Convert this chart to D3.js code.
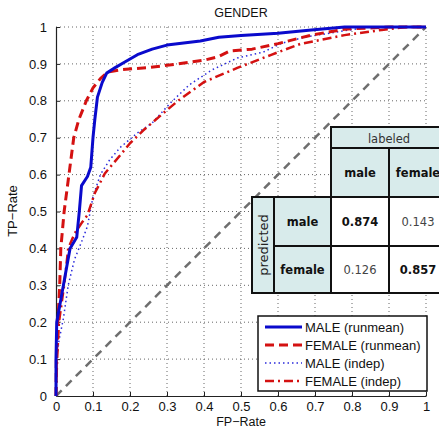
<!DOCTYPE html>
<html>
<head>
<meta charset="utf-8">
<script src="https://cdn.jsdelivr.net/npm/d3@7"></script>
<style>
  html, body { margin: 0; padding: 0; background: #fff; }
  svg { display: block; }
</style>
</head>
<body>
<svg id="chart" width="439" height="430"></svg>
<script>
// ROC curves (FP-rate, TP-rate) for gender classification
const maleRunmean = [
  [0,0],[0,0.1],[0.002,0.2],[0.011,0.25],[0.02,0.3],[0.029,0.35],[0.038,0.4],[0.056,0.43],
  [0.063,0.5],[0.069,0.57],[0.085,0.595],[0.094,0.62],[0.1,0.7],[0.105,0.75],[0.112,0.81],
  [0.125,0.85],[0.137,0.875],[0.16,0.89],[0.186,0.905],[0.22,0.925],[0.26,0.94],[0.3,0.951],
  [0.39,0.962],[0.44,0.972],[0.5,0.977],[0.6,0.983],[0.69,0.992],[0.78,1],[1,1]
];
const femaleRunmean = [
  [0,0],[0.001,0.1],[0.005,0.2],[0.01,0.3],[0.013,0.4],[0.022,0.5],[0.035,0.6],[0.048,0.7],
  [0.062,0.75],[0.082,0.8],[0.1,0.835],[0.12,0.86],[0.14,0.878],[0.18,0.885],[0.25,0.89],
  [0.33,0.9],[0.4,0.91],[0.44,0.92],[0.47,0.935],[0.53,0.94],[0.6,0.955],[0.69,0.978],
  [0.78,0.994],[0.9,1],[1,1]
];
const maleIndep = [
  [0,0],[0.002,0.1],[0.008,0.15],[0.02,0.21],[0.033,0.3],[0.05,0.37],[0.07,0.42],[0.085,0.46],
  [0.1,0.54],[0.12,0.6],[0.145,0.64],[0.175,0.675],[0.22,0.713],[0.26,0.74],[0.31,0.795],
  [0.36,0.843],[0.42,0.883],[0.49,0.916],[0.56,0.932],[0.61,0.956],[0.67,0.972],[0.78,0.99],
  [0.85,1],[1,1]
];
const femaleIndep = [
  [0,0],[0.003,0.1],[0.008,0.2],[0.022,0.3],[0.033,0.4],[0.05,0.44],[0.07,0.47],[0.085,0.49],
  [0.105,0.55],[0.132,0.603],[0.178,0.658],[0.2,0.685],[0.236,0.72],[0.3,0.775],[0.33,0.8],
  [0.4,0.851],[0.49,0.889],[0.58,0.924],[0.66,0.954],[0.78,0.978],[0.88,0.992],[0.95,1],[1,1]
];
const chance = [[0,0],[1,1]];

const seriesNames = ["MALE (runmean)", "FEMALE (runmean)", "MALE (indep)", "FEMALE (indep)"];
const tickValues = [0,0.1,0.2,0.3,0.4,0.5,0.6,0.7,0.8,0.9,1];
const tickLabels = ["0","0.1","0.2","0.3","0.4","0.5","0.6","0.7","0.8","0.9","1"];

// confusion matrix
const classNames = ["male", "female"];
const confusion = [[0.874, 0.143], [0.126, 0.857]];

const svg = d3.select("#chart");
const x = d3.scaleLinear().domain([0,1]).range([56, 426]);
const y = d3.scaleLinear().domain([0,1]).range([396, 27]);

const FONT = "'Liberation Sans', Arial, Helvetica, sans-serif";

// dotted grid
const grid = svg.append("g");
grid.selectAll("line.gx").data(tickValues.slice(1)).join("line")
  .attr("x1", d => x(d)).attr("x2", d => x(d)).attr("y1", y(0)).attr("y2", y(1))
  .attr("stroke", "#666").attr("stroke-width", 1).attr("stroke-dasharray", "1,3");
grid.selectAll("line.gy").data(tickValues.slice(1)).join("line")
  .attr("y1", d => y(d)).attr("y2", d => y(d)).attr("x1", x(0)).attr("x2", x(1))
  .attr("stroke", "#666").attr("stroke-width", 1).attr("stroke-dasharray", "1,3");

// axes
const fmt = (d, i) => tickLabels[i];
const xAxis = d3.axisBottom(x).tickValues(tickValues).tickFormat(fmt).tickSizeInner(-4).tickSizeOuter(0).tickPadding(6);
const yAxis = d3.axisLeft(y).tickValues(tickValues).tickFormat(fmt).tickSizeInner(-4).tickSizeOuter(0).tickPadding(9);
const gx = svg.append("g").attr("transform", `translate(0,${y(0)})`).call(xAxis);
const gy = svg.append("g").attr("transform", `translate(${x(0)},0)`).call(yAxis);
[gx, gy].forEach(g => {
  g.select(".domain").attr("stroke", "#222").attr("stroke-width", 1.2);
  g.selectAll(".tick line").attr("stroke", "#222");
  g.selectAll(".tick text").attr("font-family", FONT).attr("font-size", 13).attr("fill", "#111");
});

// chance diagonal
const line = d3.line().x(d => x(d[0])).y(d => y(d[1]));
svg.append("path").datum(chance).attr("d", line)
  .attr("fill", "none").attr("stroke", "#6e6e6e").attr("stroke-width", 2.5)
  .attr("stroke-dasharray", "8,6");

// ROC curves
const styles = [
  { data: maleIndep,    color: "#2b2bdc", width: 1.5, dash: "1.5,3" },
  { data: femaleIndep,  color: "#d41111", width: 2.5, dash: "9,4,2,4" },
  { data: femaleRunmean,color: "#d41111", width: 3,   dash: "9,5" },
  { data: maleRunmean,  color: "#0a0acc", width: 3,   dash: null }
];
styles.forEach(s => {
  svg.append("path").datum(s.data).attr("d", line)
    .attr("fill", "none").attr("stroke", s.color).attr("stroke-width", s.width)
    .attr("stroke-linejoin", "round")
    .attr("stroke-dasharray", s.dash);
});

// title and axis labels
svg.append("text").attr("x", 241).attr("y", 17).attr("text-anchor", "middle")
  .attr("font-family", FONT).attr("font-size", 12.5).attr("fill", "#111").text("GENDER");
svg.append("text").attr("x", 241).attr("y", 426).attr("text-anchor", "middle")
  .attr("font-family", FONT).attr("font-size", 12.5).attr("fill", "#111").text("FP\u2212Rate");
svg.append("text").attr("transform", "translate(17,211) rotate(-90)").attr("text-anchor", "middle")
  .attr("font-family", FONT).attr("font-size", 13).attr("fill", "#111").text("TP\u2212Rate");

// confusion matrix table
const TFONT = "'DejaVu Sans', Verdana, sans-serif";
const fillHead = "#d8ebeb";
const tbl = svg.append("g");
const colX = [252, 274, 331, 389, 447];
const rowY = [127, 148, 197, 246, 293];
function cell(x0, y0, x1, y1, fill) {
  tbl.append("rect").attr("x", x0).attr("y", y0).attr("width", x1 - x0).attr("height", y1 - y0)
    .attr("fill", fill).attr("stroke", "#111").attr("stroke-width", 2);
}
function label(cx, cy, txt, opts = {}) {
  const t = tbl.append("text").attr("x", cx).attr("y", cy).attr("text-anchor", "middle")
    .attr("dominant-baseline", "central").attr("font-family", TFONT)
    .attr("font-size", opts.size || 11.5).attr("font-weight", opts.bold ? "bold" : "normal")
    .attr("fill", opts.color || "#111").text(txt);
  if (opts.rotate) t.attr("transform", `rotate(-90,${cx},${cy})`);
}
cell(colX[2], rowY[0], colX[4], rowY[1], fillHead);
label((colX[2] + colX[4]) / 2, (rowY[0] + rowY[1]) / 2 + 1, "labeled", { color: "#333" });
classNames.forEach((c, j) => {
  cell(colX[2 + j], rowY[1], colX[3 + j], rowY[2], fillHead);
  label((colX[2 + j] + colX[3 + j]) / 2, (rowY[1] + rowY[2]) / 2, c, { bold: true });
});
cell(colX[0], rowY[2], colX[1], rowY[4], fillHead);
label((colX[0] + colX[1]) / 2, (rowY[2] + rowY[4]) / 2, "predicted", { rotate: true, size: 13, color: "#222" });
classNames.forEach((c, i) => {
  cell(colX[1], rowY[2 + i], colX[2], rowY[3 + i], fillHead);
  label((colX[1] + colX[2]) / 2, (rowY[2 + i] + rowY[3 + i]) / 2, c, { bold: true });
  confusion[i].forEach((v, j) => {
    cell(colX[2 + j], rowY[2 + i], colX[3 + j], rowY[3 + i], "#fff");
    const diag = i === j;
    label((colX[2 + j] + colX[3 + j]) / 2, (rowY[2 + i] + rowY[3 + i]) / 2, v.toFixed(3),
      { bold: diag, color: diag ? "#111" : "#444" });
  });
});

// legend
const lg = svg.append("g");
lg.append("rect").attr("x", 258).attr("y", 316).attr("width", 169).attr("height", 75)
  .attr("fill", "#fff").attr("stroke", "#111").attr("stroke-width", 1.5);
const legendStyles = [styles[3], styles[2], styles[0], styles[1]];
seriesNames.forEach((name, i) => {
  const cy = 327 + i * 18;
  const s = legendStyles[i];
  lg.append("line").attr("x1", 265).attr("x2", 302).attr("y1", cy).attr("y2", cy)
    .attr("stroke", s.color).attr("stroke-width", s.width).attr("stroke-dasharray", s.dash);
  lg.append("text").attr("x", 305).attr("y", cy).attr("dominant-baseline", "central")
    .attr("font-family", FONT).attr("font-size", 13).attr("fill", "#111").text(name);
});
</script>
</body>
</html>
